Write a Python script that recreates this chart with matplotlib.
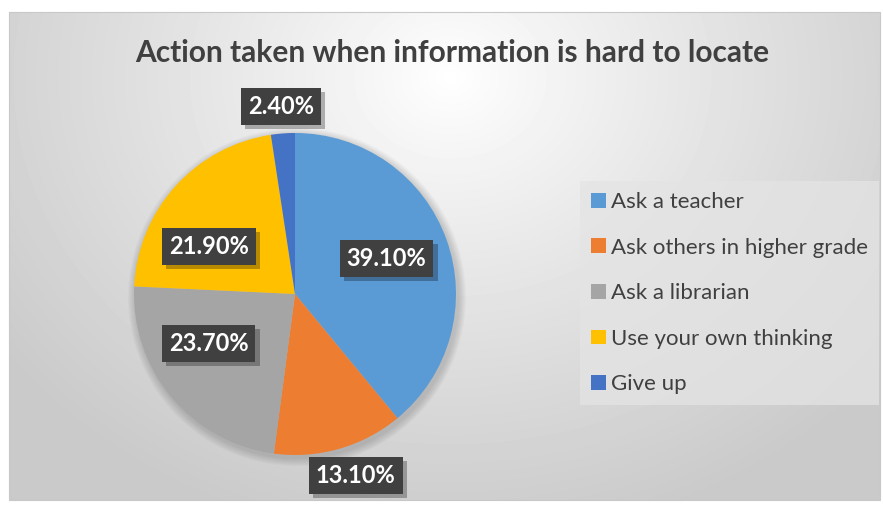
import numpy as np
import matplotlib as mpl
import matplotlib.pyplot as plt
import matplotlib.patheffects as pe
from matplotlib.patches import Circle, Rectangle

mpl.rcParams['font.family'] = ['Lato', 'DejaVu Sans']

categories = ['Ask a teacher', 'Ask others in higher grade', 'Ask a librarian',
              'Use your own thinking', 'Give up']
shares = [39.1, 13.1, 23.7, 21.9, 2.4]
colors = ['#5B9BD5', '#ED7D31', '#A5A5A5', '#FFC000', '#4472C4']
title = 'Action taken when information is hard to locate'

# label placement: radius factor and angle nudge (deg) per slice
lab_r = [0.61, 1.19, 0.62, 0.61, 1.17]
lab_da = [1.5, 2.5, -10, 13, 0]

W, H = 883, 507
fig = plt.figure(figsize=(W / 100, H / 100), dpi=100, facecolor='white')
ax = fig.add_axes([0, 0, 1, 1])

# radial grey background of the chart area
x0, x1, y0, y1 = 9, 880, 7, 495
gx, gy = np.meshgrid(np.arange(x0, x1), np.arange(y1, y0, -1))
d = np.sqrt(((gx - 450) / 560.0) ** 2 + ((gy - 430) / 470.0) ** 2)
bg = 1.0 - 0.21 * np.clip(d, 0, 1) ** 0.9
ax.imshow(bg, cmap='gray', vmin=0, vmax=1, extent=(x0, x1, y0, y1),
          aspect='auto', zorder=0, interpolation='bilinear')
ax.add_patch(Rectangle((x0, y0), x1 - x0, y1 - y0, fill=False,
                       edgecolor='#c8c8c8', lw=0.8, zorder=1))

cx, cy, r = 295, 213, 161

# soft shadow around pie
for k in range(8):
    ax.add_patch(Circle((cx + 2, cy - 3), r + 8 - k, color='black',
                        alpha=0.018, lw=0, zorder=1))

wedges, _ = ax.pie(shares, colors=colors, startangle=90, counterclock=False,
                   center=(cx, cy), radius=r, wedgeprops=dict(linewidth=0),
                   frame=True)
for w in wedges:
    w.set_zorder(2)

# percentage labels in dark boxes with a drop shadow
for w, v, rf, da in zip(wedges, shares, lab_r, lab_da):
    ang = np.deg2rad((w.theta1 + w.theta2) / 2 + da)
    tx, ty = cx + rf * r * np.cos(ang), cy + rf * r * np.sin(ang)
    t = ax.text(tx, ty, f'{v:.2f}%', ha='center', va='center', fontsize=17,
                fontweight='bold', color='white', zorder=4,
                bbox=dict(boxstyle='square,pad=0.3', fc='#404040', ec='none'))
    t.get_bbox_patch().set_path_effects(
        [pe.SimplePatchShadow(offset=(3, -3), shadow_rgbFace='black', alpha=0.28),
         pe.Normal()])

ax.text(452, H - 53, title, ha='center', va='center', fontsize=21.5,
        fontweight='bold', color='#404040', zorder=5)

leg = ax.legend(wedges, categories, loc='upper left',
                bbox_to_anchor=(580, H - 181), bbox_transform=ax.transData,
                fontsize=16, frameon=True, fancybox=False, framealpha=0.75,
                facecolor='#e4e4e4', edgecolor='none', borderaxespad=0,
                borderpad=0.5, handlelength=0.65, handleheight=0.65,
                handletextpad=0.25, labelspacing=1.15, labelcolor='#404040')
leg.set_zorder(5)

ax.set_xlim(0, W)
ax.set_ylim(0, H)
ax.set_aspect('auto')
ax.axis('off')

fig.savefig('out.png', dpi=100, facecolor='white')
